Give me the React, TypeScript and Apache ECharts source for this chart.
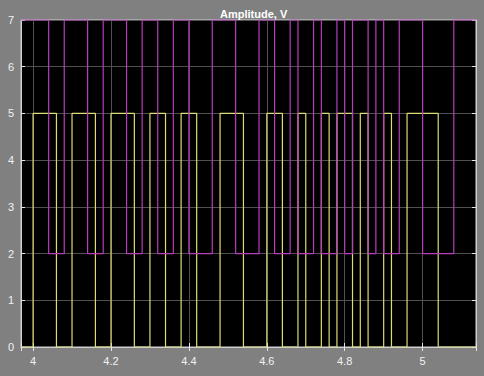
import React, { useEffect, useRef } from 'react';
import * as echarts from 'echarts';

const xMin = 3.969;
const xMax = 5.137;

const yellowTimes = [3.969, 4.0, 4.06, 4.1, 4.16, 4.2, 4.26, 4.3, 4.34, 4.38, 4.42, 4.48, 4.54, 4.6, 4.64, 4.68, 4.7, 4.74, 4.76, 4.78, 4.82, 4.84, 4.86, 4.9, 4.92, 4.96, 5.04, 5.137];
const yellowLevels = [0, 5, 0, 5, 0, 5, 0, 5, 0, 5, 0, 5, 0, 5, 0, 5, 0, 5, 0, 5, 0, 5, 0, 5, 0, 5, 0, 0];

const magentaTimes = [3.969, 4.04, 4.08, 4.14, 4.18, 4.24, 4.28, 4.32, 4.36, 4.4, 4.46, 4.52, 4.58, 4.62, 4.66, 4.68, 4.72, 4.74, 4.78, 4.8, 4.82, 4.86, 4.88, 4.9, 4.94, 5.0, 5.08, 5.137];
const magentaLevels = [7, 2, 7, 2, 7, 2, 7, 2, 7, 2, 7, 2, 7, 2, 7, 2, 7, 2, 7, 2, 7, 2, 7, 2, 7, 2, 7, 7];

const yMin = 0;
const yMax = 7;
const yStep = 1;

const FONT = '"Liberation Sans", Arial, sans-serif';
const AXIS_COLOR = '#cfcfcf';
const GRID_COLOR = '#505050';
const LABEL_COLOR = '#f2f2f2';

export default function App() {
  const ref = useRef<HTMLDivElement>(null);
  useEffect(() => {
    const chart = echarts.init(ref.current!, null, { renderer: 'svg' });
    const xFmt = (v: number) => {
      const k = v * 5;
      if (Math.abs(k - Math.round(k)) > 1e-6) return '';
      return String(Math.round(v * 10) / 10);
    };
    chart.setOption({
      animation: false,
      backgroundColor: '#808080',
      title: {
        text: 'Amplitude, V',
        left: 215,
        top: 3,
        textStyle: { color: '#ffffff', fontSize: 11, fontWeight: 'bold', fontFamily: FONT },
      },
      grid: {
        left: 21,
        right: 8,
        top: 20,
        bottom: 29,
        show: true,
        backgroundColor: '#000000',
        borderColor: AXIS_COLOR,
        borderWidth: 1,
        containLabel: false,
        outerBoundsMode: 'none',
      },
      xAxis: [
        {
          type: 'value',
          min: xMin,
          max: xMax,
          position: 'bottom',
          axisLine: { show: true, lineStyle: { color: AXIS_COLOR } },
          axisTick: { show: true, inside: true, length: 4, lineStyle: { color: '#e6e6e6' } },
          axisLabel: { color: LABEL_COLOR, fontSize: 11, margin: 8, fontFamily: FONT, formatter: xFmt },
          splitLine: { show: true, lineStyle: { color: GRID_COLOR, width: 1 } },
        },
        {
          type: 'value',
          min: xMin,
          max: xMax,
          position: 'top',
          axisLine: { show: true, lineStyle: { color: AXIS_COLOR } },
          axisTick: { show: true, inside: true, length: 4, lineStyle: { color: '#e6e6e6' } },
          axisLabel: { show: false },
          splitLine: { show: false },
        },
      ],
      yAxis: [
        {
          type: 'value',
          min: yMin,
          max: yMax,
          interval: yStep,
          position: 'left',
          axisLine: { show: true, lineStyle: { color: AXIS_COLOR } },
          axisTick: { show: true, inside: true, length: 4, lineStyle: { color: '#e6e6e6' } },
          axisLabel: { color: LABEL_COLOR, fontSize: 11, margin: 7, fontFamily: FONT },
          splitLine: { show: true, lineStyle: { color: GRID_COLOR, width: 1 } },
        },
        {
          type: 'value',
          min: yMin,
          max: yMax,
          interval: yStep,
          position: 'right',
          axisLine: { show: true, lineStyle: { color: AXIS_COLOR } },
          axisTick: { show: true, inside: true, length: 4, lineStyle: { color: '#e6e6e6' } },
          axisLabel: { show: false },
          splitLine: { show: false },
        },
      ],
      series: [
        {
          name: 'Yellow',
          type: 'line',
          step: 'end',
          xAxisIndex: 0,
          yAxisIndex: 0,
          showSymbol: false,
          symbol: 'none',
          lineStyle: { color: '#dcdc74', width: 1.2 },
          data: yellowTimes.map((t, i) => [t, yellowLevels[i]]),
        },
        {
          name: 'Magenta',
          type: 'line',
          step: 'end',
          xAxisIndex: 0,
          yAxisIndex: 0,
          showSymbol: false,
          symbol: 'none',
          lineStyle: { color: '#b83cbc', width: 1.2 },
          data: magentaTimes.map((t, i) => [t, magentaLevels[i]]),
        },
      ],
    });
    return () => chart.dispose();
  }, []);
  return <div ref={ref} style={{ position: 'fixed', left: 0, top: 0, width: 484, height: 376 }} />;
}
